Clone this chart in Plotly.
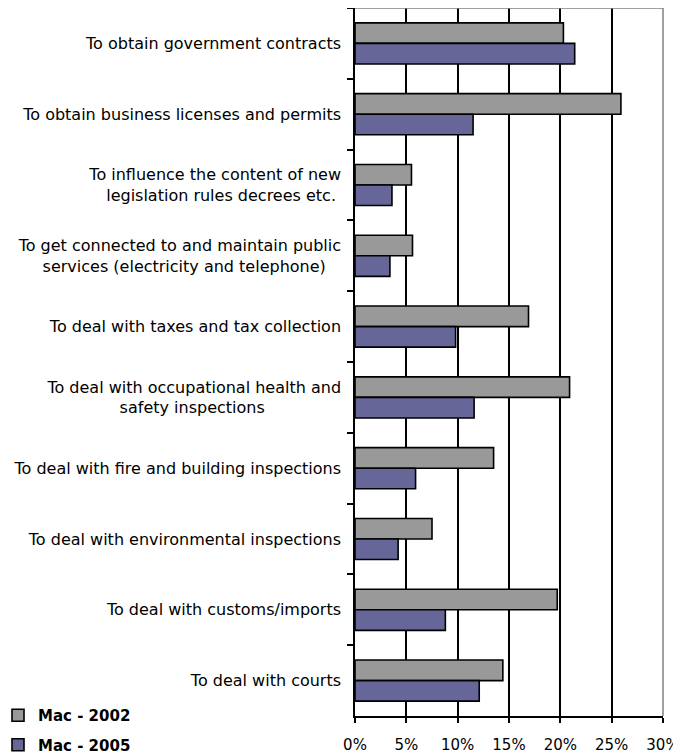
import plotly.graph_objects as go

categories = [
    ["To obtain government contracts"],
    ["To obtain business licenses and permits"],
    ["To influence the content of new", "legislation rules decrees etc."],
    ["To get connected to and maintain public", "services (electricity and telephone)"],
    ["To deal with taxes and tax collection"],
    ["To deal with occupational health and", "safety inspections"],
    ["To deal with fire and building inspections"],
    ["To deal with environmental inspections"],
    ["To deal with customs/imports"],
    ["To deal with courts"],
]
series_names = ["Mac - 2002", "Mac - 2005"]
mac_2002 = [20.3, 25.9, 5.5, 5.6, 16.9, 20.9, 13.5, 7.5, 19.7, 14.4]
mac_2005 = [21.4, 11.5, 3.6, 3.4, 9.8, 11.6, 5.9, 4.2, 8.8, 12.1]
x_ticks = [0, 5, 10, 15, 20, 25, 30]
x_tick_labels = ["0%", "5%", "10%", "15%", "20%", "25%", "30%"]

NBSP = "\u00a0"


def center_lines(lines):
    longest = max(len(s) for s in lines)
    out = []
    for s in lines:
        pad = int(round((longest - len(s)) * 0.85))
        out.append(s + NBSP * pad)
    return "<br>".join(out)


labels = [center_lines(c) for c in categories]

FONT = "DejaVu Sans"
# page has an 8px body margin; figure sized to fit the 681x755 window
W, H = 673, 747
L, R, T, B = 347, 18, 0, 39
PW = W - L - R
PH = H - T - B

fig = go.Figure()
fig.add_trace(go.Bar(
    y=labels, x=mac_2002, name=series_names[0], orientation="h",
    legendgroup="a",
    marker=dict(color="#999999", line=dict(color="black", width=1.6)),
))
fig.add_trace(go.Bar(
    y=labels, x=mac_2005, name=series_names[1], orientation="h",
    legendgroup="b",
    marker=dict(color="#666699", line=dict(color="black", width=1.6)),
))

fig.update_layout(
    width=W, height=H,
    margin=dict(l=L, r=R, t=T, b=B, pad=0, autoexpand=False),
    paper_bgcolor="white", plot_bgcolor="white",
    barmode="group", bargap=0.42, bargroupgap=0,
    font=dict(family=FONT, size=16, color="black"),
    legend=dict(
        xref="paper", yref="paper",
        x=(-10 - L) / PW, y=(PH - 691) / PH,
        xanchor="left", yanchor="top",
        font=dict(family=FONT, size=15, color="black", weight="bold"),
        bgcolor="rgba(0,0,0,0)", traceorder="grouped",
        tracegroupgap=7, itemwidth=30,
    ),
    xaxis=dict(
        range=[0, 30], tickvals=x_ticks, ticktext=x_tick_labels,
        showgrid=True, gridcolor="black", gridwidth=1.5,
        showline=True, linecolor="black", linewidth=1.5,
        ticks="outside", ticklen=5, tickcolor="black", tickwidth=1.5,
        zeroline=False, tickfont=dict(size=15), automargin=False,
        ticklabelstandoff=9,
    ),
    yaxis=dict(
        type="category", autorange="reversed",
        tickson="boundaries", ticks="outside", ticklen=6,
        tickcolor="black", tickwidth=1.5,
        showline=True, linecolor="black", linewidth=1.5,
        showgrid=False, zeroline=False, tickfont=dict(size=16),
        automargin=False, ticklabelstandoff=9,
    ),
    shapes=[
        dict(type="line", xref="paper", yref="paper", x0=0, x1=1, y0=1, y1=1,
             line=dict(color="#808080", width=1.5), layer="above"),
        dict(type="line", xref="paper", yref="paper", x0=1, x1=1, y0=0, y1=1,
             line=dict(color="#808080", width=1.5), layer="above"),
    ],
)

fig.write_html("out.html")
